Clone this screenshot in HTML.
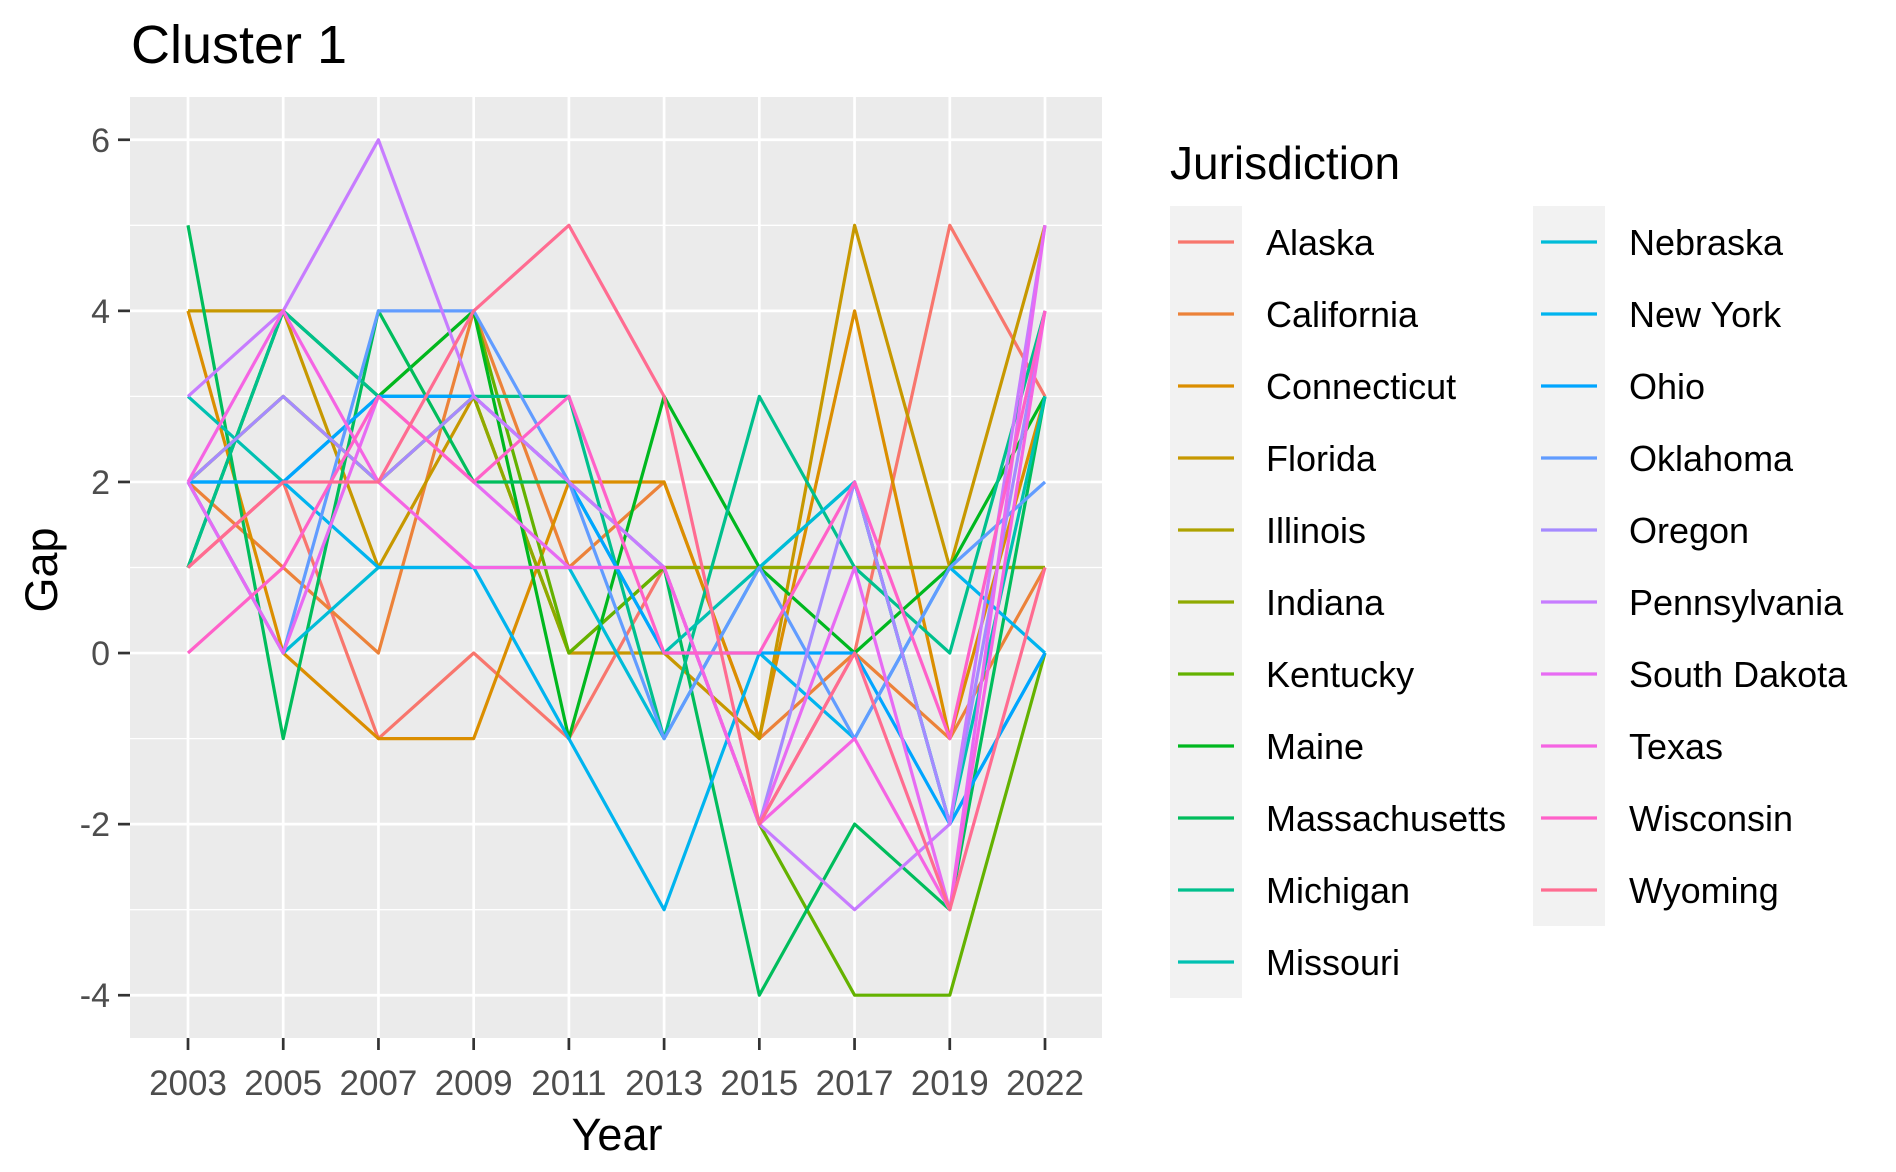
<!DOCTYPE html>
<html><head><meta charset="utf-8"><style>
html,body{margin:0;padding:0;background:#fff;}
svg{display:block;font-family:"Liberation Sans",Arial,sans-serif;}
</style></head><body>
<svg id="chart" width="1896" height="1172" viewBox="0 0 1896 1172">
<text x="131" y="63" font-size="54" fill="#000">Cluster 1</text>
<rect x="130" y="97" width="972" height="941" fill="#EBEBEB"/>
<g id="grid"></g>
<g id="lines"></g>
<g id="axes"></g>
<text x="617" y="1150" font-size="45" text-anchor="middle" fill="#000">Year</text>
<text transform="translate(57,570) rotate(-90)" font-size="45" text-anchor="middle" fill="#000">Gap</text>
<text x="1170" y="179" font-size="46" fill="#000">Jurisdiction</text>
<g id="legend"></g>
</svg>
<script>
const years = ["2003","2005","2007","2009","2011","2013","2015","2017","2019","2022"];
const yTicks = [-4,-2,0,2,4,6];
const names = ["Alaska","California","Connecticut","Florida","Illinois","Indiana","Kentucky","Maine","Massachusetts","Michigan","Missouri","Nebraska","New York","Ohio","Oklahoma","Oregon","Pennsylvania","South Dakota","Texas","Wisconsin","Wyoming"];
const colors = ["#F8766D","#EC8239","#DB8E00","#C79800","#AEA200","#8FAA00","#64B200","#00B81F","#00BD5C","#00C08D","#00C1B2","#00BCD8","#00B4EF","#00A5FF","#619CFF","#A58AFF","#C77CFF","#E76BF3","#F564E3","#FF61C9","#FF6C91"];
const vAlaska = [1,2,-1,0,-1,1,-2,0,5,3];
const vCalifornia = [2,1,0,4,1,2,-1,0,-1,1];
const vConnecticut = [4,0,-1,-1,2,2,-1,4,-1,3];
const vFlorida = [4,4,1,3,0,0,-1,5,1,5];
const vIllinois = [2,3,2,3,0,1,1,1,1,1];
const vIndiana = [2,3,2,3,0,1,1,1,1,1];
const vKentucky = [1,4,3,4,0,1,-2,-4,-4,0];
const vMaine = [1,4,3,4,-1,3,1,0,1,3];
const vMassachusetts = [5,-1,4,2,2,1,-4,-2,-3,3];
const vMichigan = [1,4,3,3,3,-1,3,1,0,4];
const vMissouri = [3,2,3,3,2,0,1,2,-2,3];
const vNebraska = [2,0,1,1,1,-1,1,2,-2,0];
const vNewYork = [2,2,1,1,-1,-3,0,-1,1,0];
const vOhio = [2,2,3,3,2,0,0,0,-2,0];
const vOklahoma = [2,0,4,4,2,-1,1,-1,1,2];
const vOregon = [2,3,2,3,2,1,-2,2,-2,4];
const vPennsylvania = [3,4,6,3,2,1,-2,-3,-2,5];
const vSouthDakota = [2,0,3,2,1,1,-2,1,-3,5];
const vTexas = [2,4,2,1,1,1,-2,-1,-3,4];
const vWisconsin = [0,1,3,2,3,0,0,2,-1,4];
const vWyoming = [1,2,2,4,5,3,-2,0,-3,1];
const series = [vAlaska,vCalifornia,vConnecticut,vFlorida,vIllinois,vIndiana,vKentucky,vMaine,vMassachusetts,vMichigan,vMissouri,vNebraska,vNewYork,vOhio,vOklahoma,vOregon,vPennsylvania,vSouthDakota,vTexas,vWisconsin,vWyoming];

const NS="http://www.w3.org/2000/svg";
const L=130,R=1102,T=97,B=1038, yMin=-4.5,yMax=6.5;
function xs(i){return 188+i*(1045-188)/(years.length-1);}
function ys(v){return B-(v-yMin)/(yMax-yMin)*(B-T);}
function mk(tag,attrs,parent){const e=document.createElementNS(NS,tag);for(const k in attrs)e.setAttribute(k,attrs[k]);parent.appendChild(e);return e;}
const grid=document.getElementById('grid'),lines=document.getElementById('lines'),axes=document.getElementById('axes'),legend=document.getElementById('legend');
for(let v=-3;v<=5;v+=2){const e=mk('line',{x1:L,x2:R,y1:ys(v),y2:ys(v),stroke:'#fff','stroke-width':1.3},grid);

}
yTicks.forEach(v=>{const e=mk('line',{x1:L,x2:R,y1:ys(v),y2:ys(v),stroke:'#fff','stroke-width':2.7},grid);


const t=mk('line',{x1:118,x2:L,y1:ys(v),y2:ys(v),stroke:'#333','stroke-width':2.7},axes);


const lb=mk('text',{x:110,y:ys(v)+12,'font-size':34,'text-anchor':'end',fill:'#4D4D4D'},axes);lb.textContent=v;

});
years.forEach((y,i)=>{const e=mk('line',{x1:xs(i),x2:xs(i),y1:T,y2:B,stroke:'#fff','stroke-width':2.7},grid);


const t=mk('line',{x1:xs(i),x2:xs(i),y1:B,y2:B+12,stroke:'#333','stroke-width':2.7},axes);


const lb=mk('text',{x:xs(i),y:1095,'font-size':35,'text-anchor':'middle',fill:'#4D4D4D'},axes);lb.textContent=y;

});
series.forEach((s,k)=>{const pts=s.map((v,i)=>xs(i).toFixed(1)+','+ys(v).toFixed(1)).join(' ');
const p=mk('polyline',{points:pts,fill:'none',stroke:colors[k],'stroke-width':3.2,'stroke-linejoin':'round'},lines);

});
const rowH=72, top0=206;
[[0,11,1170],[11,21,1533]].forEach(([a,b,x0])=>{
const bg=mk('rect',{x:x0,y:top0,width:72,height:(b-a)*rowH,fill:'#F2F2F2'},legend);


for(let k=a;k<b;k++){const cy=top0+(k-a)*rowH+36;
const g=mk('g',{},legend);


mk('line',{x1:x0+8,x2:x0+64,y1:cy,y2:cy,stroke:colors[k],'stroke-width':3.2},g);
const t=mk('text',{x:x0+96,y:cy+13,'font-size':36,fill:'#000'},g);t.textContent=names[k];}
});
</script>
</body></html>
